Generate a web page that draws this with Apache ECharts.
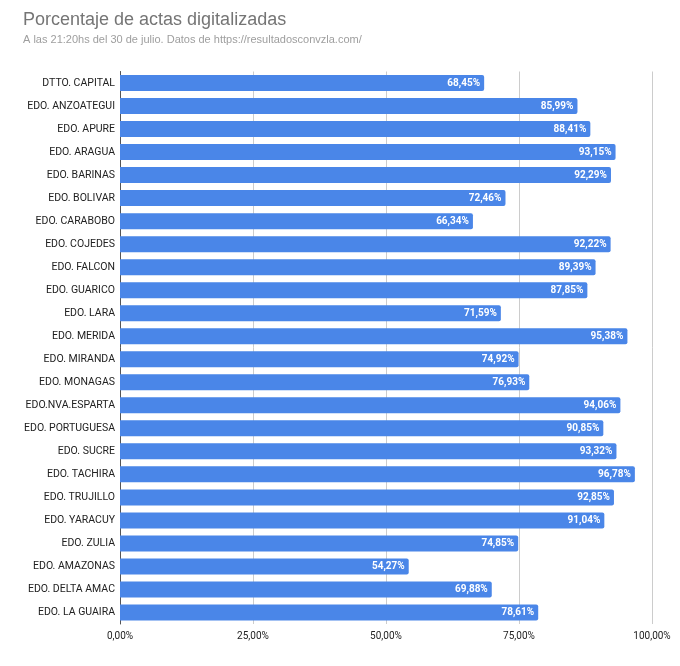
<!DOCTYPE html>
<html>
<head>
<meta charset="utf-8">
<script src="https://cdn.jsdelivr.net/npm/echarts@6/dist/echarts.min.js"></script>
<style>
  html, body { margin: 0; padding: 0; background: #fff; }
  #chart { width: 680px; height: 666px; }
</style>
</head>
<body>
<div id="chart"></div>
<script>
// estados, de arriba hacia abajo
var estados = [
  'DTTO. CAPITAL', 'EDO. ANZOATEGUI', 'EDO. APURE', 'EDO. ARAGUA', 'EDO. BARINAS',
  'EDO. BOLIVAR', 'EDO. CARABOBO', 'EDO. COJEDES', 'EDO. FALCON', 'EDO. GUARICO',
  'EDO. LARA', 'EDO. MERIDA', 'EDO. MIRANDA', 'EDO. MONAGAS', 'EDO.NVA.ESPARTA',
  'EDO. PORTUGUESA', 'EDO. SUCRE', 'EDO. TACHIRA', 'EDO. TRUJILLO', 'EDO. YARACUY',
  'EDO. ZULIA', 'EDO. AMAZONAS', 'EDO. DELTA AMAC', 'EDO. LA GUAIRA'
];
// porcentaje de actas
var porcentajes = [
  68.45, 85.99, 88.41, 93.15, 92.29,
  72.46, 66.34, 92.22, 89.39, 87.85,
  71.59, 95.38, 74.92, 76.93, 94.06,
  90.85, 93.32, 96.78, 92.85, 91.04,
  74.85, 54.27, 69.88, 78.61
];
var ticksX = [0, 25, 50, 75, 100];

var fuente = 'Roboto, Liberation Sans, Arial, sans-serif';

function fmt (v) {
  return v.toFixed(2).replace('.', ',') + '%';
}

var myChart = echarts.init(document.getElementById('chart'));

var option = {
  animation: false,
  backgroundColor: '#ffffff',
  title: {
    text: 'Porcentaje de actas digitalizadas',
    subtext: 'A las 21:20hs del 30 de julio. Datos de https://resultadosconvzla.com/',
    left: 18,
    top: 6,
    itemGap: 5,
    textStyle: {
      fontFamily: 'Liberation Sans, Arial, sans-serif',
      fontSize: 18,
      fontWeight: 'normal',
      color: '#757575'
    },
    subtextStyle: {
      fontFamily: 'Liberation Sans, Arial, sans-serif',
      fontSize: 11,
      color: '#9e9e9e'
    }
  },
  grid: {
    left: 120,
    right: 28,
    top: 71.5,
    bottom: 42,
    containLabel: false
  },
  xAxis: {
    type: 'value',
    min: 0,
    max: 100,
    interval: 25,
    axisLine: { show: false },
    axisTick: { show: false },
    splitLine: { lineStyle: { color: '#cccccc', width: 1 } },
    axisLabel: {
      margin: 7,
      fontFamily: fuente,
      fontSize: 10,
      color: '#222',
      formatter: function (v) {
        return ticksX.indexOf(v) >= 0 ? fmt(v) : '';
      }
    }
  },
  yAxis: {
    type: 'category',
    inverse: true,
    data: estados,
    axisLine: { show: true, lineStyle: { color: '#555', width: 1 } },
    axisTick: { show: false },
    axisLabel: {
      margin: 5,
      fontFamily: fuente,
      fontSize: 10.5,
      color: '#222'
    }
  },
  series: [
    {
      type: 'bar',
      data: porcentajes,
      barWidth: 16,
      itemStyle: {
        color: '#4a86e8',
        borderRadius: [0, 2, 2, 0]
      },
      label: {
        show: true,
        position: 'insideRight',
        distance: 4,
        color: '#ffffff',
        fontWeight: 'bold',
        fontFamily: fuente,
        fontSize: 10,
        formatter: function (p) { return fmt(p.value); }
      }
    }
  ]
};

option && myChart.setOption(option);
</script>
</body>
</html>
